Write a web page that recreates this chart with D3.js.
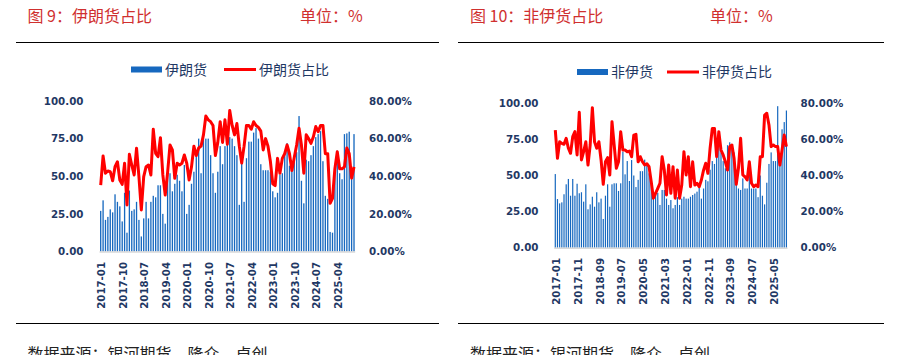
<!DOCTYPE html>
<html><head><meta charset="utf-8">
<script src="https://cdn.jsdelivr.net/npm/d3@7"></script>
<style>body{margin:0;background:#fff}svg{display:block}</style>
</head><body>
<svg id="c" width="908" height="355"></svg>
<script>
// ---------- data ----------
const months = d3.utcMonths(new Date(Date.UTC(2017,0,1)), new Date(Date.UTC(2025,11,1))).map(d3.utcFormat("%Y-%m"));

const iranVolume = [27,34,21,23,28,26,38,33,30,20,39,12.5,40.5,27,28,33,21,10,22,33,22,33,37,36,44,44,25,18.5,51,52,40,45,51,47,40,57.5,
  25,31,45,53,65,75,52,75,75,75,64,52,39,53,70,58,70,76,76,75,70,64,31,64,33,62,73,73,79,82,75,58,54,54,54,53,40,
  36,39,51,52,65,72,57,54,64,66,90,47,32,61,60,64,70,76,78,80,60,37,35,13,12.5,53,67,52,48,78,78.5,79.6,52,78];
const iranShare = [35.3,50.8,41.6,42.8,42.4,37.6,45.1,47.7,38,35.7,46.9,24.7,51.7,46,40.7,54.9,39.8,22.1,39.8,45.1,46,40.7,65,52.2,50.4,60.5,40.7,30,42.1,56.6,54,38.9,46.9,46,46.9,51.3,
  47,38,45,56,51,55,56,62,72,70,69,67,51,58,69,58,70,57,75,67,62,68,56,47,56,67,67,65,69,67,66,64,54,60,56,48,36,
  35,49.5,41.6,49.5,52,56.6,52,43,50,56.6,65.5,56.6,41.6,62,60,57.5,61,66.4,63.7,67,67,52,52,25.6,28.3,44,53,44,44,45,55,52,39,45];

const nonIranVolume = [51,33.7,30.7,31.4,37,43.9,47.6,36,47.6,36,44.3,37.7,38.4,31.9,43.9,26.6,30,35.3,28.4,38.4,31.4,34,19.9,36,43.9,28.4,43.9,44.6,44.6,39.3,44.6,66.5,50.8,60,46.2,60.7,
  50,42,47,53,53,61,58,51.5,44,34,36.5,38,29.6,40,40,34,29.6,33,27.3,29.6,35,29.6,34,35.3,34,34,35.3,36.5,37.5,38.8,42,34,41,47,46,54,
  60,58,73,80.8,66,60,55,71,73,71,66,54,41,40,48,41,41,60,41,41,41,35,50,36,30,45,58,66,60,60,98,62,82,87,95];
const nonIranShare = [65.2,49.5,58.7,57.8,57.3,60.6,55.1,52.3,61.5,64.3,51.4,75,48.6,53.2,58.7,45.8,56.9,77.6,58.7,55.1,58.7,48.6,35.1,47.6,49.9,40.3,69.8,56.9,44,47.6,64.3,54.1,54.1,53.2,53.5,50.4,
  62.4,62.8,47.6,50.4,47.6,45.8,46.5,44.9,36.6,27.4,30.1,32.9,35.7,50.4,43,29.2,45.8,30.1,44.9,27.4,43,27.4,34.7,53.2,40.3,50.4,33.8,47.6,34.7,35.7,33.8,37.5,43,46.8,41.2,55.1,
  66,66.1,50.4,64.3,54.1,51.4,47.6,43,56,56.9,49.5,35.1,44,60.6,40.3,39.3,37.5,47.6,35.7,33.8,34.7,33.8,50.4,50.4,73.5,74.5,68,56,56.9,56,56,45.8,54.1,62.4,56];

const leftTicks = ["2017-01","2017-10","2018-07","2019-04","2020-01","2020-10","2021-07","2022-04","2023-01","2023-10","2024-07","2025-04"];
const rightTicks = ["2017-01","2017-11","2018-09","2019-07","2020-05","2021-03","2022-01","2022-11","2023-09","2024-07","2025-05"];
const volumeTicks = [0,25,50,75,100];
const shareTicks = [0,20,40,60,80];

const source = "数据来源：银河期货、隆众、卓创";
const unitText = "单位：%";

// ---------- drawing ----------
const svg = d3.select("#c");
const NAVY = "#1f3864", RED = "#ff0000", BLUE = "#1668bf", TITLE = "#d0302f";
const NUMFONT = "'DejaVu Sans', Verdana, sans-serif";
const CJK = "'Noto Sans CJK SC', 'Noto Sans', sans-serif";

function panel(c) {
  const g = svg.append("g");
  // header
  g.append("text").attr("x", c.titleX).attr("y", 21.5).attr("font-family", CJK).attr("font-size", 16)
    .attr("fill", TITLE).text(c.title);
  g.append("text").attr("x", c.unitX).attr("y", 21.5).attr("font-family", CJK).attr("font-size", 16)
    .attr("fill", TITLE).text(unitText);
  g.append("line").attr("x1", c.ruleX0).attr("x2", c.ruleX1).attr("y1", 42.5).attr("y2", 42.5)
    .attr("stroke", "#000").attr("stroke-width", 1.2);
  g.append("line").attr("x1", c.ruleX0).attr("x2", c.ruleX1).attr("y1", 323.5).attr("y2", 323.5)
    .attr("stroke", "#000").attr("stroke-width", 1.2);
  g.append("text").attr("x", c.titleX).attr("y", 359.5).attr("font-family", CJK).attr("font-size", 16)
    .attr("fill", "#222").text(source);

  // legend
  const L = c.legend;
  g.append("rect").attr("x", L.rx).attr("y", L.y - 3).attr("width", 31).attr("height", 6).attr("fill", BLUE);
  g.append("text").attr("x", L.rx + 34).attr("y", L.y).attr("dy", "0.36em").attr("font-family", CJK)
    .attr("font-size", 14).attr("fill", NAVY).text(c.barName);
  g.append("line").attr("x1", L.lx).attr("x2", L.lx + 32).attr("y1", L.y).attr("y2", L.y)
    .attr("stroke", RED).attr("stroke-width", 3);
  g.append("text").attr("x", L.lx + 35).attr("y", L.y).attr("dy", "0.36em").attr("font-family", CJK)
    .attr("font-size", 14).attr("fill", NAVY).text(c.lineName);

  // scales
  const p = 0.45;
  const x = d3.scaleBand().domain(months).range([c.x0, c.x1]).paddingInner(p).paddingOuter(p / 2);
  const y = d3.scaleLinear().domain([0, 100]).range([c.yBot, c.yTop]);
  const y2 = d3.scaleLinear().domain([0, 80]).range([c.yBot, c.yTop]);
  const cx = m => x(m) + x.bandwidth() / 2;

  // axes (labels only)
  const ya = g.append("g").attr("transform", `translate(${c.leftLabelX},0)`)
    .call(d3.axisLeft(y).tickValues(volumeTicks).tickSize(0).tickPadding(0).tickFormat(d3.format(".2f")));
  const ya2 = g.append("g").attr("transform", `translate(${c.rightLabelX},0)`)
    .call(d3.axisRight(y2).tickValues(shareTicks).tickSize(0).tickPadding(0).tickFormat(d => d3.format(".2f")(d) + "%"));
  [ya, ya2].forEach(a => {
    a.select(".domain").remove();
    a.selectAll("text").attr("font-family", NUMFONT).attr("font-size", 10.3).attr("font-weight", "bold").attr("fill", NAVY);
  });

  // bars
  g.append("g").selectAll("rect").data(c.bars).join("rect")
    .attr("x", (d, i) => x(months[i])).attr("width", x.bandwidth())
    .attr("y", d => y(d)).attr("height", d => y(0) - y(d)).attr("fill", BLUE);

  // baseline
  g.append("line").attr("x1", c.x0).attr("x2", c.x1).attr("y1", y(0) + 0.5).attr("y2", y(0) + 0.5)
    .attr("stroke", "#d9d9d9").attr("stroke-width", 1.5);

  // line
  g.append("path").datum(c.share)
    .attr("d", d3.line().x((d, i) => cx(months[i])).y(d => y2(d)))
    .attr("fill", "none").attr("stroke", RED).attr("stroke-width", 3).attr("stroke-linejoin", "round");

  // x tick labels
  const xa = g.append("g").attr("transform", `translate(0,${c.xLabelY})`)
    .call(d3.axisBottom(x).tickValues(c.ticks).tickSize(0).tickPadding(0));
  xa.select(".domain").remove();
  xa.selectAll(".tick").attr("transform", d => `translate(${cx(d) + 1},0)`);
  xa.selectAll("text").attr("font-family", NUMFONT).attr("font-size", 10.2).attr("font-weight", "bold").attr("fill", NAVY)
    .attr("transform", "rotate(-90)").attr("text-anchor", "end").attr("x", 0).attr("y", 0).attr("dy", "0.36em");
}

panel({
  title: "图 9：伊朗货占比", titleX: 27.5, unitX: 300, ruleX0: 16, ruleX1: 439,
  barName: "伊朗货", lineName: "伊朗货占比",
  legend: { rx: 131, lx: 224, y: 69.5 },
  x0: 99.5, x1: 355.2, yTop: 101, yBot: 251.5, leftLabelX: 83.5, rightLabelX: 369, xLabelY: 262,
  bars: iranVolume, share: iranShare, ticks: leftTicks
});
panel({
  title: "图 10：非伊货占比", titleX: 470, unitX: 710, ruleX0: 458, ruleX1: 884,
  barName: "非伊货", lineName: "非伊货占比",
  legend: { rx: 577, lx: 667, y: 72 },
  x0: 554.2, x1: 787.5, yTop: 103.3, yBot: 247.7, leftLabelX: 538.5, rightLabelX: 800.5, xLabelY: 258,
  bars: nonIranVolume, share: nonIranShare, ticks: rightTicks
});
</script>
</body></html>
